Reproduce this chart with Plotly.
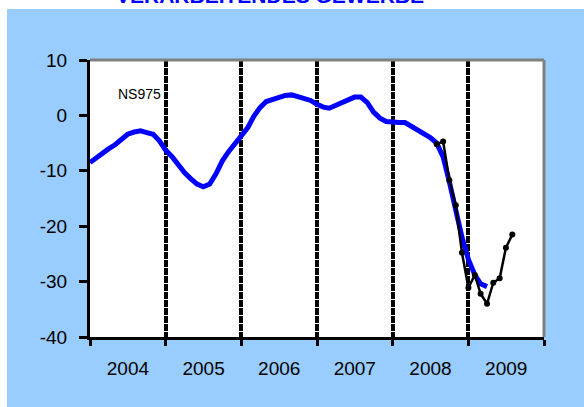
import plotly.graph_objects as go
import pandas as pd

# Monthly index values, Jan 2004 onward (blue series)
blue_start = "2004-01-01"
blue_values = [-8.5, -7.6, -6.8, -6.0, -5.3, -4.3, -3.4, -3.0, -2.8, -3.1, -3.4, -4.6,
               -6.3, -7.5, -9.0, -10.3, -11.4, -12.4, -12.9, -12.4, -10.5, -8.2, -6.5, -5.0,
               -3.6, -2.2, -0.2, 1.4, 2.5, 2.9, 3.3, 3.6, 3.7, 3.4, 3.0, 2.7,
               2.0, 1.5, 1.3, 1.8, 2.5, 3.0, 3.3, 3.3, 2.3, 0.6, -0.5, -1.1,
               -1.3, -1.3, -1.3, -2.0, -2.8, -3.5, -4.0, -5.0, -7.5, -12.0, -17.0, -22.0,
               -26.0, -28.8, -30.4, -30.9]

# Black series with markers, Aug 2008 onward
black_start = "2008-08-01"
black_values = [-5.2, -4.7, -11.7, -16.2, -24.8, -31.1, -28.8, -32.2, -34.0, -30.2, -29.4, -23.9, -21.5]

title_text = "VERARBEITENDES GEWERBE"
series_label = "NS975"
y_ticks = [-40, -30, -20, -10, 0, 10]
y_tick_labels = ["-40", "-30", "-20", "-10", "0", "10"]

blue_x = pd.date_range(blue_start, periods=len(blue_values), freq="MS")
black_x = pd.date_range(black_start, periods=len(black_values), freq="MS")

fig = go.Figure()
fig.add_trace(go.Scatter(x=blue_x, y=blue_values, mode="lines",
                         line=dict(color="#0000FF", width=5), showlegend=False))
fig.add_trace(go.Scatter(x=black_x, y=black_values, mode="lines+markers",
                         line=dict(color="#000000", width=2.5),
                         marker=dict(color="#000000", size=6), showlegend=False))

font_family = "Liberation Sans, Arial, sans-serif"

fig.update_layout(
    width=584, height=407,
    margin=dict(l=90, r=40, t=60, b=70),
    paper_bgcolor="#99CCFF",
    plot_bgcolor="#FFFFFF",
    font=dict(family=font_family, color="#000000", size=19),
    xaxis=dict(
        type="date",
        range=["2004-01-01", "2010-01-01"],
        tick0="2004-01-01", dtick="M12",
        tickformat="%Y", ticklabelmode="period",
        ticks="outside", ticklen=6, tickwidth=3, tickcolor="#000000",
        showline=True, linecolor="#000000", linewidth=3,
        showgrid=True, gridcolor="#000000", gridwidth=3.5, griddash="7px,1px",
        zeroline=False, ticklabelstandoff=6,
        tickfont=dict(size=19),
    ),
    yaxis=dict(
        range=[-40, 10], tickvals=y_ticks, ticktext=y_tick_labels,
        ticks="outside", ticklen=8, tickwidth=3, tickcolor="#000000",
        showline=True, linecolor="#000000", linewidth=3,
        showgrid=False, zeroline=False, ticklabelstandoff=8,
        tickfont=dict(size=19),
    ),
    shapes=[
        # white strips at top and left of the canvas
        dict(type="rect", xref="paper", yref="paper", x0=-90/454, x1=494/454,
             y0=(337-9)/277, y1=337/277, fillcolor="#FFFFFF", line_width=0, layer="above"),
        dict(type="rect", xref="paper", yref="paper", x0=-90/454, x1=-83/454,
             y0=-70/277, y1=337/277, fillcolor="#FFFFFF", line_width=0, layer="above"),
        # gray top and right borders of plot area
        dict(type="line", xref="paper", yref="paper", x0=0, x1=1, y0=1, y1=1,
             line=dict(color="#808080", width=3), layer="above"),
        dict(type="line", xref="paper", yref="paper", x0=1, x1=1, y0=0, y1=1,
             line=dict(color="#808080", width=3), layer="above"),
    ],
    annotations=[
        dict(text=title_text, xref="paper", yref="paper", x=(270-90)/454, y=(337+5)/277,
             xanchor="center", yanchor="middle", showarrow=False,
             font=dict(family=font_family, size=21, color="#0000FF", weight="bold")),
        dict(text=series_label, xref="paper", yref="paper", x=(139-90)/454, y=(337-94)/277,
             xanchor="center", yanchor="middle", showarrow=False,
             font=dict(family=font_family, size=14, color="#000000")),
    ],
)

fig.write_html("out.html", config={"displayModeBar": False},
               post_script="document.body.style.margin='0';document.body.style.overflow='hidden';")
